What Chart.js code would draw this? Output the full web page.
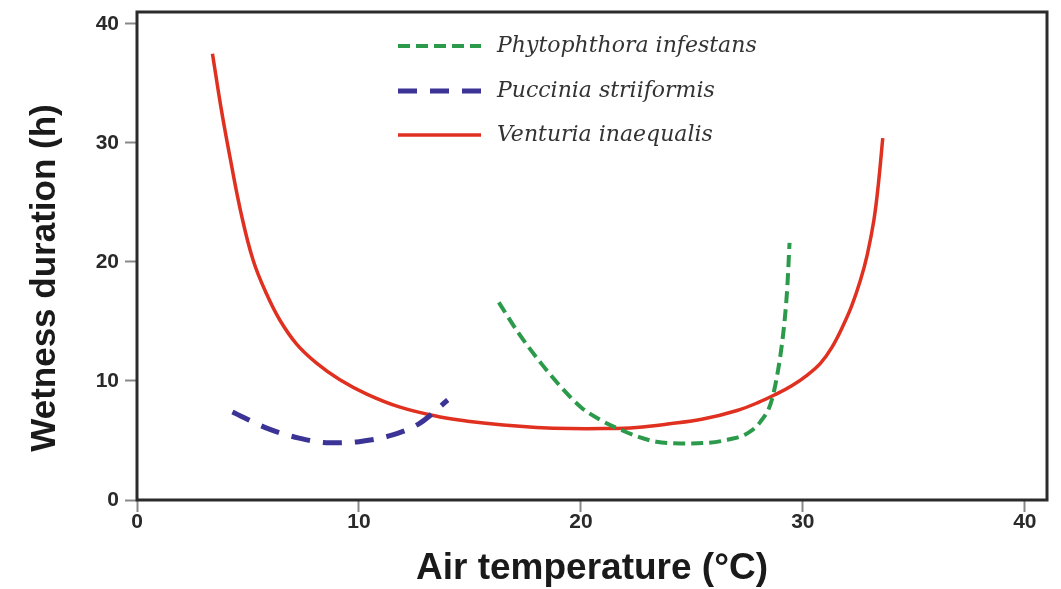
<!DOCTYPE html>
<html>
<head>
<meta charset="utf-8">
<script src="https://cdn.jsdelivr.net/npm/chart.js@4.4.0/dist/chart.umd.min.js"></script>
<style>
html,body{margin:0;padding:0;background:#fff;}
#wrap{width:1061px;height:589px;position:relative;}
</style>
</head>
<body>
<div id="wrap"><canvas id="c" width="1061" height="589"></canvas></div>
<script>
// Series names
const seriesNames = ["Phytophthora infestans", "Puccinia striiformis", "Venturia inaequalis"];

// Phytophthora infestans (air temperature °C, wetness duration h)
const phytoTemp = [16.3, 17.2, 18.2, 19.1, 20.0, 20.9, 21.8, 22.6, 23.4, 24.5, 25.7, 26.7, 27.5, 28.1, 28.6, 29.0, 29.2, 29.3, 29.4];
const phytoWet  = [16.6, 14.0, 11.5, 9.5, 7.8, 6.7, 5.9, 5.3, 4.9, 4.75, 4.8, 5.1, 5.6, 6.6, 8.4, 12.3, 15.5, 17.9, 21.6];

// Puccinia striiformis
const pucciTemp = [4.3, 5.9, 7.3, 8.7, 10.0, 11.4, 12.7, 14.0];
const pucciWet  = [7.4, 6.0, 5.2, 4.8, 4.9, 5.4, 6.4, 8.4];

// Venturia inaequalis
const ventTemp = [3.4, 3.8, 4.2, 4.7, 5.24, 5.84, 6.44, 7.19, 8.09, 9.14, 10.35, 11.85, 13.6, 15.0, 16.5, 18.0, 19.5, 21.0, 22.5, 24.0, 25.5, 27.0, 28.0, 28.8, 29.5, 30.2, 30.8, 31.3, 31.8, 32.2, 32.6, 32.9, 33.2, 33.4, 33.6];
const ventWet  = [37.5, 32.8, 28.7, 24.0, 20.1, 17.3, 15.1, 13.1, 11.5, 10.1, 8.9, 7.8, 7.0, 6.6, 6.3, 6.1, 6.0, 6.0, 6.1, 6.4, 6.8, 7.5, 8.2, 8.9, 9.6, 10.5, 11.5, 12.8, 14.6, 16.3, 18.5, 20.6, 23.5, 26.5, 30.4];

// Tick labels
const xTicks = [0, 10, 20, 30, 40];
const yTicks = [0, 10, 20, 30, 40];

// Axis titles
const xTitle = 'Air temperature (°C)';
const yTitle = 'Wetness duration (h)';

const toPts = (xs, ys) => xs.map((x, i) => ({x: x, y: ys[i]}));

const boxPlugin = {
  id: 'box',
  afterDatasetsDraw(chart) {
    const {ctx, chartArea: a} = chart;
    ctx.save();
    ctx.strokeStyle = '#2b2b2b';
    ctx.lineWidth = 3;
    ctx.strokeRect(a.left, a.top, a.right - a.left, a.bottom - a.top);
    ctx.restore();
  }
};

const legendPlugin = {
  id: 'inlegend',
  afterDraw(chart) {
    const {ctx} = chart;
    const x0 = 398, x1 = 481, tx = 497;
    const rows = [46, 91, 135];
    ctx.save();
    chart.data.datasets.forEach((ds, i) => {
      const y = rows[i];
      ctx.beginPath();
      ctx.strokeStyle = ds.borderColor;
      ctx.lineWidth = ds.borderWidth;
      ctx.setLineDash(ds.borderDash || []);
      ctx.moveTo(x0, y);
      ctx.lineTo(x1, y);
      ctx.stroke();
      ctx.setLineDash([]);
      ctx.fillStyle = '#333333';
      ctx.font = 'italic 22px "DejaVu Serif", serif';
      ctx.textBaseline = 'middle';
      ctx.textAlign = 'left';
      ctx.fillText(ds.label, tx, y);
    });
    ctx.restore();
  }
};

const yTitlePlugin = {
  id: 'ytitle',
  afterDraw(chart) {
    const {ctx} = chart;
    ctx.save();
    ctx.translate(45, 278);
    ctx.rotate(-Math.PI / 2);
    ctx.fillStyle = '#1a1a1a';
    ctx.font = 'bold 35px "Liberation Sans", Arial, sans-serif';
    ctx.textAlign = 'center';
    ctx.textBaseline = 'middle';
    ctx.fillText(yTitle, 0, 0);
    ctx.restore();
  }
};

new Chart(document.getElementById('c'), {
  type: 'scatter',
  data: {
    datasets: [
      {
        label: seriesNames[0],
        data: toPts(phytoTemp, phytoWet),
        showLine: true,
        borderColor: '#2c9a4b',
        borderWidth: 4,
        borderDash: [12, 6],
        pointRadius: 0,
        cubicInterpolationMode: 'monotone',
        fill: false
      },
      {
        label: seriesNames[1],
        data: toPts(pucciTemp, pucciWet),
        showLine: true,
        borderColor: '#3b3496',
        borderWidth: 5,
        borderDash: [19, 13],
        pointRadius: 0,
        cubicInterpolationMode: 'monotone',
        fill: false
      },
      {
        label: seriesNames[2],
        data: toPts(ventTemp, ventWet),
        showLine: true,
        borderColor: '#e0301f',
        borderWidth: 3.5,
        pointRadius: 0,
        tension: 0.4,
        fill: false
      }
    ]
  },
  options: {
    responsive: false,
    animation: false,
    layout: {padding: {left: 0, top: 12, right: 14, bottom: 0}},
    plugins: {legend: {display: false}, tooltip: {enabled: false}},
    scales: {
      x: {
        type: 'linear',
        min: 0, max: 41,
        afterBuildTicks(s) { s.ticks = xTicks.map(v => ({value: v})); },
        afterFit(s) { s.height = 89; },
        grid: {display: true, drawOnChartArea: false, drawTicks: true, tickLength: 12, tickColor: '#888', tickWidth: 2},
        border: {display: false},
        ticks: {color: '#2a2a2a', font: {family: '"Liberation Sans", Arial, sans-serif', size: 21, weight: 'bold', lineHeight: 1}, padding: 0, maxRotation: 0},
        title: {display: true, text: xTitle, color: '#1a1a1a', font: {family: '"Liberation Sans", Arial, sans-serif', size: 37, weight: 'bold', lineHeight: 1.1}, padding: {top: 0, bottom: 0}}
      },
      y: {
        type: 'linear',
        min: 0, max: 41,
        afterBuildTicks(s) { s.ticks = yTicks.map(v => ({value: v})); },
        afterFit(s) { s.width = 137; },
        grid: {display: true, drawOnChartArea: false, drawTicks: true, tickLength: 12, tickColor: '#888', tickWidth: 2},
        border: {display: false},
        ticks: {color: '#2a2a2a', font: {family: '"Liberation Sans", Arial, sans-serif', size: 21, weight: 'bold', lineHeight: 0.4}, padding: 6},
        title: {display: false, text: yTitle}
      }
    }
  },
  plugins: [boxPlugin, legendPlugin, yTitlePlugin]
});
</script>
</body>
</html>
